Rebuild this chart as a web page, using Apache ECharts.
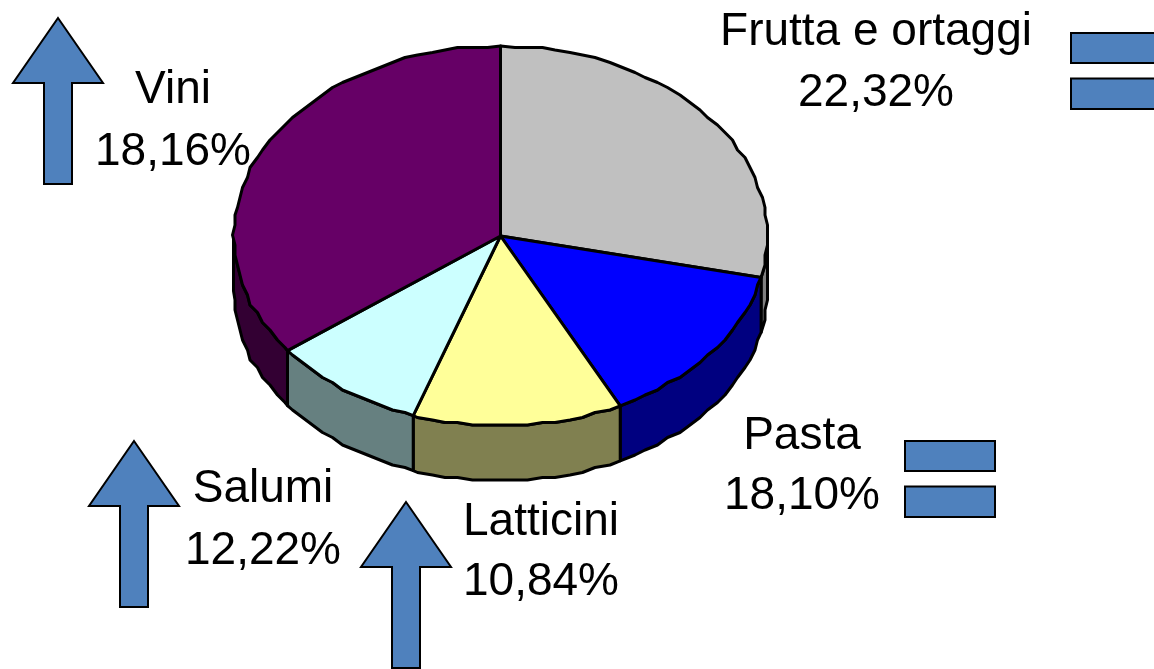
<!DOCTYPE html>
<html><head><meta charset="utf-8">
<style>html,body{margin:0;padding:0;background:#fff}#c{width:1154px;height:669px}</style>
<script src="https://cdn.jsdelivr.net/npm/echarts@6/dist/echarts.min.js"></script>
</head><body><div id="c"></div>
<script>
var categories = ['Frutta e ortaggi', 'Pasta', 'Latticini', 'Salumi', 'Vini'];
var labelValues = ['22,32%', '18,10%', '10,84%', '12,22%', '18,16%'];
var sliceShares = [28.5, 14.1, 12.7, 9.4, 35.3];
var trends = ['equal', 'equal', 'up', 'up', 'up'];
var topColors = ['#c0c0c0', '#0000ff', '#ffff99', '#ccffff', '#660066'];
var sideColors = ['#808080', '#000080', '#808050', '#668080', '#330033'];

var CX = 500.5, CY = 236, RX = 267, RY = 190, DEPTH = 55;
var SNAP = 2.5, STEP = 3;
var total = sliceShares.reduce(function (a, b) { return a + b; }, 0);

function pt(deg, dy, snap) {
  var r = deg * Math.PI / 180;
  var x = CX + RX * Math.sin(r), y = CY - RY * Math.cos(r);
  if (snap) { x = Math.round(x / SNAP) * SNAP; y = Math.round(y / SNAP) * SNAP; }
  return [x, y + (dy || 0)];
}
// Arc outline: exact end points, coarse stepped points between (the source's slightly jagged rim).
function arc(a0, a1, dy) {
  var lo = Math.min(a0, a1), hi = Math.max(a0, a1), out = [pt(lo, dy)];
  for (var a = Math.ceil(lo / STEP + 0.2) * STEP; a < hi - 0.6; a += STEP) out.push(pt(a, dy, true));
  out.push(pt(hi, dy));
  return a0 <= a1 ? out : out.reverse();
}
var lineStyle = { stroke: '#000', lineWidth: 3, lineJoin: 'round' };

function renderSlice(params, api) {
  var idx = params.dataIndex, start = 0;
  for (var i = 0; i < idx; i++) start += sliceShares[i];
  var a0 = start / total * 360, a1 = (start + api.value(1)) / total * 360;
  var children = [];
  var w0 = Math.max(a0, 90), w1 = Math.min(a1, 270);
  if (w1 > w0) {
    var top = arc(w0, w1, 0), bot = arc(w1, w0, DEPTH);
    children.push({ type: 'polygon', shape: { points: top.concat(bot) },
      style: Object.assign({ fill: sideColors[idx] }, lineStyle) });
  }
  children.push({ type: 'polygon', shape: { points: [[CX, CY]].concat(arc(a0, a1, 0)) },
    style: Object.assign({ fill: topColors[idx] }, lineStyle) });
  return { type: 'group', children: children };
}

var FONT = '"Liberation Sans", Arial, sans-serif';
var labelPos = [[876, 32, 93], [802, 436, 496], [541, 522, 582], [263, 489, 551], [173, 90, 152]];
var markerPos = [[1071, 33], [905, 441], [361, 502], [89, 441], [13, 18]];
var markerHeight = [166, 166, 166, 166, 166];

var graphics = [];
function txt(s, x, y) {
  graphics.push({ type: 'text', x: x, y: y, z: 10, style: { text: s, font: '46px ' + FONT, fill: '#000', align: 'center', verticalAlign: 'middle' } });
}
var markStyle = { fill: '#4f81bd', stroke: '#000', lineWidth: 2 };
categories.forEach(function (c, i) {
  var p = labelPos[i], m = markerPos[i];
  txt(c, p[0], p[1]);
  txt(labelValues[i], p[0], p[2]);
  if (trends[i] === 'equal') {
    [[0, 30], [45.5, 30.5]].forEach(function (b) {
      graphics.push({ type: 'rect', z: 9, shape: { x: m[0], y: m[1] + b[0], width: 90, height: b[1] }, style: markStyle });
    });
  } else {
    var x = m[0], y = m[1], h = markerHeight[i];
    graphics.push({ type: 'polygon', z: 9, shape: { points: [[x + 45, y], [x + 90, y + 65], [x + 59, y + 65], [x + 59, y + h], [x + 31, y + h], [x + 31, y + 65], [x, y + 65]] }, style: markStyle });
  }
});

var chart = echarts.init(document.getElementById('c'), null, { renderer: 'canvas' });
chart.setOption({
  animation: false,
  backgroundColor: '#fff',
  graphic: graphics,
  series: [{
    type: 'custom',
    coordinateSystem: 'none',
    renderItem: renderSlice,
    encode: { tooltip: 1 },
    data: categories.map(function (c, i) { return [i, sliceShares[i]]; })
  }]
});
</script></body></html>
